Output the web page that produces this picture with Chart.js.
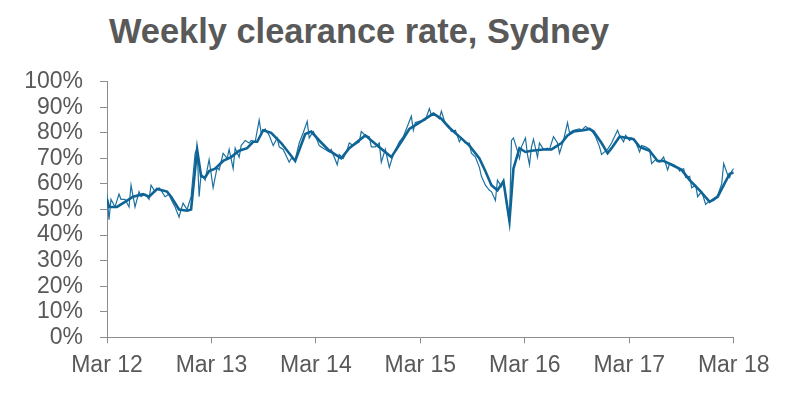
<!DOCTYPE html>
<html>
<head>
<meta charset="utf-8">
<script src="https://cdn.jsdelivr.net/npm/chart.js@4/dist/chart.umd.min.js"></script>
<style>
  html, body { margin: 0; padding: 0; background: #fff; }
  #wrap { position: relative; width: 789px; height: 397px; overflow: hidden; }
  #title { position: absolute; left: 109px; top: 14px; font: bold 34.4px "Liberation Sans", Arial, sans-serif; line-height: 34px; color: #595959; white-space: nowrap; }
  canvas { position: absolute; left: 0; top: 0; }
</style>
</head>
<body>
<div id="wrap">
  <div id="title">Weekly clearance rate, Sydney</div>
  <canvas id="c" width="789" height="397"></canvas>
</div>
<script>
// x = weeks since March 2012, y = clearance rate (%)
const tickLabels = ["Mar 12", "Mar 13", "Mar 14", "Mar 15", "Mar 16", "Mar 17", "Mar 18"];
const totalWeeks = 313;

// weekly clearance rate (thin line)
const weekly = [
  [0,56],[1,46],[2,54],[4,51],[6,56],[7,54],[9,54],[11,51],[12,59.5],[14,51],[16,57],[17,55],[19,56],[21,54],[22,59.5],[24,57],[26,58.5],[27,57.5],[29,55],[31,56],[32,54],[34,51],[36,47],[37,50],[38,52.5],[40,50],[42,55],[44,72],[45,74],[46,55],[47,64],
  [49,61.5],[51,69.5],[53,58.5],[55,66.5],[56,65.5],[58,72],[60,70],[61,73.5],[63,66],[64,74],[66,70.5],[67,75],[69,77],[71,76],[72,77],[74,76.5],[76,85],[77,80],[79,81.5],[81,79],[83,75],[85,78],[86,74.5],[88,73.5],[91,68.5],[92,70],[94,69.5],[96,76],[98,80],[100,84.5],[101,78],[103,80.5],
  [104,79],[106,75],[108,74],[111,72.5],[112,73.5],[115,67.5],[116,71.5],[118,70],[120,73.5],[121,76],[123,75],[126,76.5],[127,80.5],[129,79],[131,78.5],[132,74.5],[134,74.5],[136,76],[137,68.5],[139,73.5],[141,66.5],[143,71.5],[146,76.5],[148,78.5],[150,82.5],[152,86.5],[153,81],
  [154,84],[156,84.5],[159,85],[161,89.5],[162,87],[164,87],[166,85.5],[167,88.5],[169,83.5],[171,82.5],[172,80.5],[174,81],[176,76.5],[177,78],[179,76],[181,76],[182,72],[184,70.5],[186,66.5],[187,63],[189,59.5],[191,57.5],[192,57],[194,53.5],[195,61.5],[197,59],[198,61.5],[200,51],[201,45],[202,77],[203,78],[205,73],
  [206,70],[207,74.5],[209,78],[210,71.5],[211,67.5],[212,74.5],[213,77.5],[215,70.5],[216,76],[218,73.5],[220,74],[221,73.5],[223,78.5],[225,76],[226,72],[228,77],[230,84],[231,80],[233,81],[236,81.5],[237,81],[239,82.5],[241,81.5],[242,81],[244,78.5],[246,74.5],[247,71.5],[250,73.5],[252,76],[255,81],[256,79],[258,76.5],
  [259,79],[261,77],[262,78],[264,76.5],[266,72.5],[267,75],[269,74.5],[271,73.5],[272,68],[274,69.5],[276,68.5],[278,70.5],[280,65.5],[281,68],[283,67.5],[285,66.5],[286,65],[288,66],[289,62.5],[291,63],[292,58.5],[294,59.5],[295,55],[297,57],[299,52],[301,53.5],[303,53.5],[305,55.5],[307,60],[308,68],[310,63.5],[311,62.5],[312,65],[313,66]
];

// smoothed clearance rate (thick line)
const smoothed = [
  [0,54],[1,51],[5,51],[9,53],[13,55],[18,56],[21,55],[25,58],[30,57],[32,55],[36,50],[40,49.5],[42,50],[45,73.5],[47,63],[49,62.5],[51,65],[54,66],[58,69],[62,70.5],[66,73],[70,74],[73,76.5],[75,76.5],[78,81],[82,80],[87,76],[94,69],[99,79.5],[102,80.5],
  [106,77],[111,73],[117,70],[121,74],[129,79],[135,75],[142,70.5],[147,76.5],[151,81.5],[157,84.5],[163,87.5],[167,85.5],[171,82],[176,78.5],[181,75],[186,70],[189,65],[192,59.5],[195,57.5],[198,61],[201,45.5],[203,66],[206,74],[209,72.5],[212,73],
  [218,73.5],[222,73.5],[227,76],[230,79],[233,80.5],[238,81],[241,81.5],[243,80.5],[247,76],[250,72],[252,74],[256,78.5],[260,78],[263,77.5],[266,74.5],[271,73],[275,69],[278,69],[282,67.5],[287,65.5],[291,61.5],[296,57.5],[301,53],[305,55],[308,59.5],[311,64],[313,64.5]
];

const toPoints = arr => arr.map(([x, y]) => ({ x, y }));
const FONT = { family: '"Liberation Sans", Arial, sans-serif', size: 23 };
const TXT = '#595959';
const AXIS = '#8c8c8c';

new Chart(document.getElementById('c'), {
  type: 'line',
  data: {
    datasets: [
      { label: 'Smoothed', data: toPoints(smoothed), borderColor: '#0f6496', borderWidth: 2.6, pointRadius: 0, tension: 0, order: 0 },
      { label: 'Weekly', data: toPoints(weekly), borderColor: '#1d70a0', borderWidth: 1.2, pointRadius: 0, tension: 0, order: 1 }
    ]
  },
  options: {
    responsive: false,
    animation: false,
    layout: { padding: { top: 81.7, right: 55.3, bottom: 0, left: 0 } },
    plugins: { legend: { display: false }, tooltip: { enabled: false }, title: { display: false } },
    scales: {
      x: {
        type: 'linear',
        min: 0, max: totalWeeks,
        afterFit: s => { s.height = 59.7; },
        afterBuildTicks: s => { s.ticks = tickLabels.map((l, i) => ({ value: i * totalWeeks / (tickLabels.length - 1) })); },
        ticks: { font: FONT, color: TXT, padding: 9, maxRotation: 0, autoSkip: false,
                 callback: (v, i) => tickLabels[i] },
        grid: { display: true, drawOnChartArea: false, drawTicks: true, tickLength: 6, color: AXIS },
        border: { display: true, color: AXIS, width: 1 }
      },
      y: {
        min: 0, max: 100,
        afterFit: s => { s.width = 107; },
        ticks: { stepSize: 10, autoSkip: false, font: FONT, color: TXT, padding: 17, callback: v => v + '%' },
        grid: { display: true, drawOnChartArea: false, drawTicks: true, tickLength: 7, color: AXIS },
        border: { display: true, color: AXIS, width: 1 }
      }
    }
  }
});
</script>
</body>
</html>
